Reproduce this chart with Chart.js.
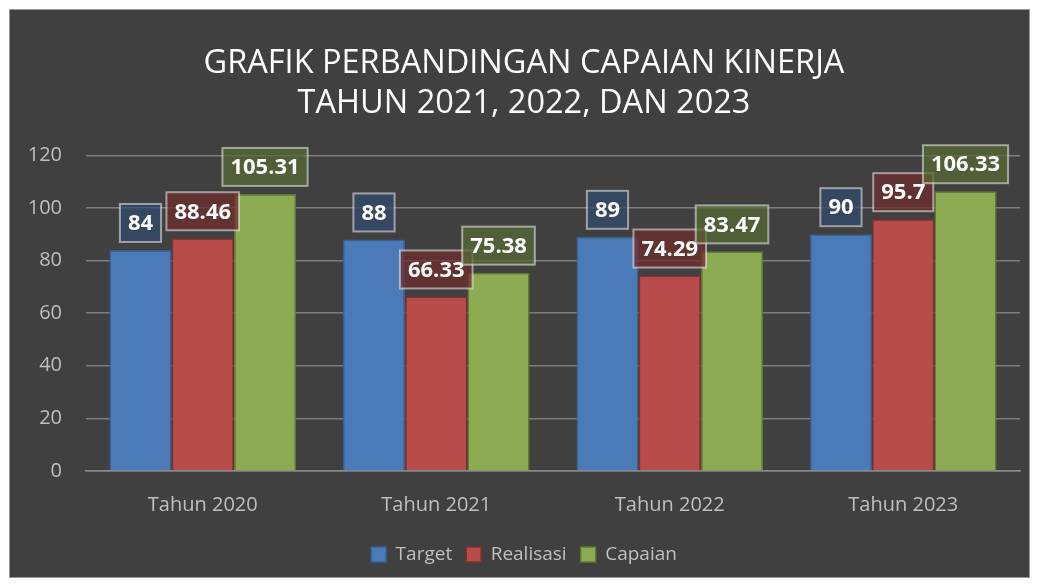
<!DOCTYPE html>
<html>
<head>
<meta charset="utf-8">
<script src="https://cdn.jsdelivr.net/npm/chart.js@4"></script>
<style>
  html, body { margin: 0; padding: 0; background: #ffffff; }
  #box {
    position: absolute; left: 9px; top: 9px;
    width: 1019px; height: 567px;
    border: 1px solid #9a9a9a; background: #404040;
  }
</style>
</head>
<body>
<div id="box"><canvas id="myChart" width="1019" height="567"></canvas></div>
<script>
var categories = ['Tahun 2020', 'Tahun 2021', 'Tahun 2022', 'Tahun 2023'];
var target = [84, 88, 89, 90];
var realisasi = [88.46, 66.33, 74.29, 95.7];
var capaian = [105.31, 75.38, 83.47, 106.33];
var titleLines = ['GRAFIK PERBANDINGAN CAPAIAN KINERJA', 'TAHUN 2021, 2022, DAN 2023'];

var FONT = "'Open Sans', 'Noto Sans', sans-serif";
var labelFills = ['rgba(50,74,108,0.75)', 'rgba(110,44,44,0.75)', 'rgba(86,106,52,0.75)'];

// boxes with value above each bar
var valueBoxes = {
    id: 'valueBoxes',
    afterDatasetsDraw: function(chart) {
        var c = chart.ctx;
        c.save();
        c.font = 'bold 22px ' + FONT;
        c.textAlign = 'center';
        c.textBaseline = 'middle';
        chart.data.datasets.forEach(function(ds, i) {
            var meta = chart.getDatasetMeta(i);
            meta.data.forEach(function(bar, j) {
                var txt = String(ds.data[j]);
                var w = c.measureText(txt).width + 16;
                var h = 38;
                var x = bar.x - w / 2;
                var y = bar.y - 8 - h;
                c.fillStyle = labelFills[i];
                c.fillRect(x, y, w, h);
                c.strokeStyle = 'rgba(255,255,255,0.5)';
                c.lineWidth = 2;
                c.strokeRect(x, y, w, h);
                c.fillStyle = '#ffffff';
                c.fillText(txt, bar.x, y + h / 2 + 1);
            });
        });
        c.restore();
    }
};

var ctx = document.getElementById('myChart').getContext('2d');
var chart = new Chart(ctx, {
    type: 'bar',
    data: {
        labels: categories,
        datasets: [{
            label: 'Target',
            backgroundColor: '#4a7bb8',
            borderColor: '#3a5f8e',
            borderWidth: 1.5,
            data: target
        }, {
            label: 'Realisasi',
            backgroundColor: '#b84c4a',
            borderColor: '#7f2f2e',
            borderWidth: 1.5,
            data: realisasi
        }, {
            label: 'Capaian',
            backgroundColor: '#8dab53',
            borderColor: '#5f7a32',
            borderWidth: 1.5,
            data: capaian
        }]
    },
    options: {
        responsive: false,
        animation: false,
        categoryPercentage: 0.8,
        barPercentage: 1.0,
        layout: { padding: { left: 18, right: 9, top: 0, bottom: 3 } },
        plugins: {
            title: {
                display: true,
                text: titleLines,
                color: '#ffffff',
                font: { family: FONT, size: 32.5, weight: 'normal', lineHeight: 1.25 },
                padding: { top: 33, bottom: 31 }
            },
            legend: {
                position: 'bottom',
                labels: {
                    color: '#bfbfbf',
                    font: { family: FONT, size: 19 },
                    boxWidth: 15,
                    boxHeight: 15,
                    padding: 14
                }
            },
            tooltip: { enabled: false }
        },
        scales: {
            x: {
                grid: { display: false },
                border: { display: true, color: '#8a8a8a', width: 1.5 },
                ticks: { color: '#bfbfbf', font: { family: FONT, size: 20 }, padding: 14 }
            },
            y: {
                min: 0,
                max: 120,
                afterFit: function(scale) { scale.width = 58; },
                ticks: { stepSize: 20, color: '#bfbfbf', font: { family: FONT, size: 20 }, padding: 24 },
                grid: { color: '#7d7d7d', lineWidth: 1.5, drawTicks: false },
                border: { display: false }
            }
        }
    },
    plugins: [valueBoxes]
});
</script>
</body>
</html>
